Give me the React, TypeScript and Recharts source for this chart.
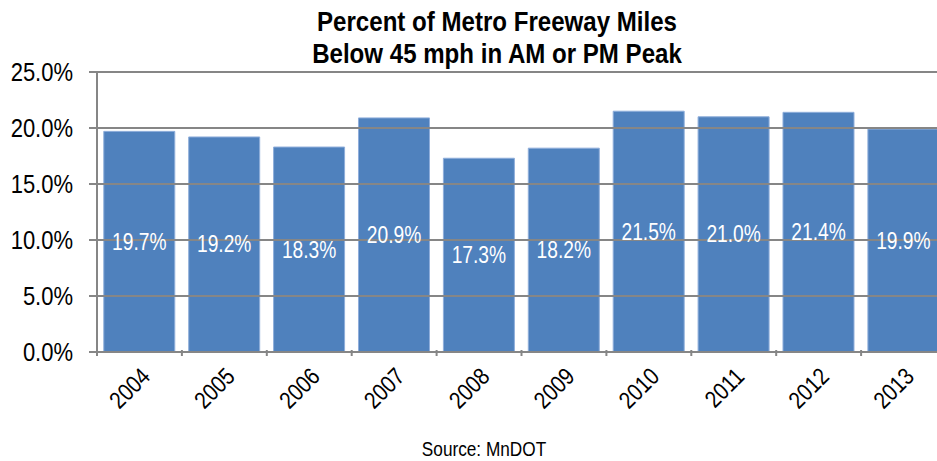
import React from "react";
import { BarChart, Bar, XAxis, YAxis, ReferenceLine, LabelList } from "recharts";

const years = ["2004", "2005", "2006", "2007", "2008", "2009", "2010", "2011", "2012", "2013"];
const pctBelow45 = [19.7, 19.2, 18.3, 20.9, 17.3, 18.2, 21.5, 21.0, 21.4, 19.9];
const yTicks = [0, 5, 10, 15, 20, 25];

const data = years.map((year, i) => ({ year, value: pctBelow45[i] }));

// no narrow font installed, so squeeze Liberation Sans horizontally
const FONT = "'Liberation Sans', Arial, sans-serif";
const GRID = "#868686";
const CHART_W = 960;
const MARGIN = { top: 72, right: 14, left: 0, bottom: 29 };
const Y_W = 97;
const band = (CHART_W - MARGIN.left - MARGIN.right - Y_W) / years.length;

const pct = (v: number) => `${v.toFixed(1)}%`;

const Squeezed = ({ x, y, sx, size, anchor = "middle", bold = false, fill = "#000", rotate = 0, children }: any) => (
  <text
    x={0}
    y={0}
    transform={`translate(${x},${y}) rotate(${rotate}) scale(${sx},1)`}
    textAnchor={anchor}
    fontFamily={FONT}
    fontSize={size}
    fontWeight={bold ? "bold" : "normal"}
    fill={fill}
  >
    {children}
  </text>
);

// excel-style x tick: tick marks sit between categories, label rotated
const XTick = (props: any) => {
  const { x, y, payload } = props;
  return (
    <g>
      <line x1={x - band / 2} x2={x - band / 2} y1={y - 10} y2={y - 4} stroke={GRID} strokeWidth={2} />
      {payload.index === years.length - 1 && (
        <line x1={x + band / 2} x2={x + band / 2} y1={y - 10} y2={y - 4} stroke={GRID} strokeWidth={2} />
      )}
      <Squeezed x={x + 12} y={y + 18} sx={0.85} size={24} anchor="end" rotate={-45}>
        {payload.value}
      </Squeezed>
    </g>
  );
};

const YTick = (props: any) => {
  const { x, y, payload } = props;
  return (
    <Squeezed x={x} y={y + 9} sx={0.88} size={25} anchor="end">
      {pct(payload.value)}
    </Squeezed>
  );
};

const BarLabel = (props: any) => {
  const { x, y, width, height, value } = props;
  return (
    <Squeezed x={x + width / 2} y={y + height / 2 + 8} sx={0.8} size={24} fill="#fff">
      {pct(value)}
    </Squeezed>
  );
};

export default function App() {
  return (
    <div style={{ position: "absolute", left: 0, top: 0, width: 937, height: 461, overflow: "hidden", background: "#fff" }}>
      <svg width={937} height={461} style={{ position: "absolute", left: 0, top: 0 }}>
        <Squeezed x={497} y={31} sx={0.86} size={28} bold>
          Percent of Metro Freeway Miles
        </Squeezed>
        <Squeezed x={497} y={63} sx={0.86} size={28} bold>
          Below 45 mph in AM or PM Peak
        </Squeezed>
        <Squeezed x={484} y={456} sx={0.82} size={21}>
          Source: MnDOT
        </Squeezed>
      </svg>
      <div style={{ position: "absolute", left: 0, top: 0 }}>
        <BarChart width={CHART_W} height={461} data={data} margin={MARGIN} barCategoryGap="8%">
          <XAxis
            dataKey="year"
            height={80}
            tick={<XTick />}
            tickLine={false}
            axisLine={{ stroke: GRID, strokeWidth: 2 }}
            interval={0}
          />
          <YAxis
            width={Y_W}
            domain={[0, 25]}
            ticks={yTicks}
            tick={<YTick />}
            tickSize={8}
            tickMargin={16}
            tickLine={{ stroke: GRID, strokeWidth: 2 }}
            axisLine={{ stroke: GRID, strokeWidth: 2 }}
          />
          <Bar dataKey="value" fill="#4F81BD" stroke="#8FAEDB" strokeWidth={1} isAnimationActive={false}>
            <LabelList dataKey="value" content={<BarLabel />} />
          </Bar>
          {yTicks.slice(1).map((t) => (
            <ReferenceLine key={t} y={t} stroke={GRID} strokeWidth={2} />
          ))}
        </BarChart>
      </div>
    </div>
  );
}
